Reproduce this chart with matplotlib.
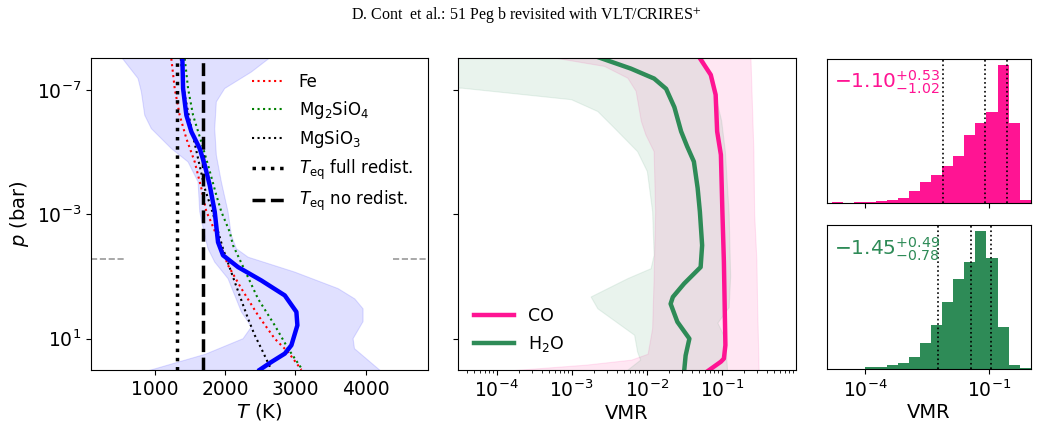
import numpy as np
import matplotlib
matplotlib.use("Agg")
import matplotlib.pyplot as plt
from matplotlib.ticker import FixedLocator, NullLocator, LogLocator

# ---------------- data ----------------
# temperature profile (median) : log10 p [bar], T [K]
tp_logp = [-8.0, -7.04, -6.18, -5.65, -5.11, -4.58, -3.93, -3.08, -2.10, -1.68, -1.30, -0.87, -0.39, 0.14, 0.57, 1.21, 1.48, 1.75, 2.0]
tp_T = [1393, 1403, 1450, 1521, 1640, 1711, 1782, 1853, 1900, 1971, 2185, 2516, 2849, 3014, 3028, 2943, 2849, 2658, 2493]
# credible envelope (left / right boundaries)
env_lo_logp = [-8.05, -7.36, -6.93, -6.18, -5.75, -5.11, -4.68, -4.04, -3.08, -2.32, -1.89, -1.46, -0.93, 0.14, 0.62, 1.0, 1.5, 2.05]
env_lo_T = [525, 763, 810, 858, 952, 1236, 1474, 1616, 1640, 1711, 1758, 1853, 2042, 2232, 2374, 2256, 1720, 880]
env_hi_logp = [-8.05, -7.57, -7.04, -6.61, -5.75, -4.90, -4.04, -3.08, -2.32, -1.89, -1.62, -1.14, -0.61, -0.28, 0.04, 0.45, 1.0, 1.32, 2.05]
env_hi_T = [2650, 2374, 1995, 1876, 1853, 1876, 1947, 2042, 2090, 2161, 2327, 2991, 3607, 3844, 3962, 3962, 3820, 3840, 4220]
# condensation curves
fe_logp = [-8.0, -7.04, -6.18, -5.43, -4.68, -3.83, -3.08, -2.85, -2.21, -1.36, -0.61, 0.25, 1.0, 1.43, 2.0]
fe_T = [1236, 1284, 1355, 1450, 1569, 1663, 1734, 1782, 1900, 2042, 2232, 2469, 2706, 2896, 3085]
mg2_logp = [-8.0, -7.04, -6.18, -5.32, -4.58, -3.61, -3.08, -2.43, -2.0, -1.20, -0.28, 0.57, 1.32, 2.0]
mg2_T = [1427, 1474, 1545, 1663, 1758, 1876, 1947, 2066, 2113, 2280, 2469, 2706, 2896, 3100]
mgs_logp = [-8.0, -6.82, -5.75, -4.79, -3.83, -3.08, -1.89, -0.82, 0.36, 0.89, 1.32, 2.0]
mgs_T = [1370, 1427, 1521, 1616, 1711, 1820, 1971, 2138, 2327, 2422, 2516, 2658]
T_eq_full = 1322
T_eq_none = 1688
p_marker_log = -1.57

# VMR profiles (log10 VMR)
co_logp = [-8.05, -7.48, -6.84, -5.66, -4.91, -3.08, -1.47, 1.21, 1.64, 1.74, 2.05]
co_logvmr = [-1.30, -1.145, -1.08, -1.06, -1.01, -0.99, -0.97, -0.95, -0.97, -1.01, -1.19]
h2o_logp = [-8.05, -7.68, -7.36, -7.03, -6.44, -5.66, -5.18, -4.69, -3.84, -3.08, -2.0, -1.30, -0.77, -0.34, -0.12, 0.46, 1.0, 1.54, 2.05]
h2o_logvmr = [-2.65, -2.21, -1.90, -1.74, -1.63, -1.54, -1.46, -1.37, -1.32, -1.29, -1.26, -1.28, -1.50, -1.65, -1.68, -1.59, -1.43, -1.48, -1.50]
co_lo_logp = [-8.05, -7.75, -7.37, -6.95, -5.98, -5.55, -5.01, -3.08, -0.93, 0.68, 1.5, 1.69, 1.85, 2.05]
co_lo_logvmr = [-3.3, -2.56, -2.25, -2.14, -2.07, -2.01, -1.90, -1.88, -1.90, -1.92, -1.98, -2.2, -2.8, -3.9]
co_hi_logp = [-8.05, -5.0, -3.0, -1.5, 0.0, 1.0, 2.05]
co_hi_logvmr = [-0.61, -0.57, -0.56, -0.53, -0.52, -0.51, -0.50]
h2o_lo_logp = [-8.05, -7.1, -7.05, -6.68, -6.30, -5.77, -5.01, -4.37, -3.08, -1.68, -1.25, -0.93, -0.34, 0.04, 0.89, 1.43, 1.69, 2.05]
h2o_lo_logvmr = [-6.0, -6.0, -4.46, -3.0, -2.65, -2.43, -2.12, -1.99, -1.92, -1.90, -1.94, -2.25, -2.74, -2.65, -2.16, -2.12, -2.08, -2.27]
h2o_hi_logp = [-8.05, -7.0, -6.0, -5.0, -3.0, -1.0, 0.0, 0.5, 1.0, 2.05]
h2o_hi_logvmr = [-1.25, -1.1, -1.0, -0.95, -0.9, -0.88, -0.9, -1.05, -0.95, -0.92]

# posterior histograms of log10 VMR
hist_edge0 = -5.0667
hist_binw = 4.0 / 15.0
co_counts = [0, 2, 0, 2, 4, 7, 10, 16, 36, 63, 84, 110, 140, 202, 238, 270, 411, 237, 10]
h2o_counts = [0, 2, 2, 2, 7, 6, 12, 20, 37, 79, 133, 200, 270, 321, 411, 332, 127, 12, 5]
co_med, co_up, co_dn = -1.10, 0.53, 1.02
h2o_med, h2o_up, h2o_dn = -1.45, 0.49, 0.78

# ---------------- figure ----------------
plt.rcParams['font.family'] = ['DejaVu Sans']
fig = plt.figure(figsize=(10.38, 4.32), dpi=100)

fig.text(0.507, 0.966, "D. Cont  et al.: 51 Peg b revisited with VLT/CRIRES$^{+}$",
         family='Liberation Serif', math_fontfamily='stix', fontsize=11.5,
         ha='center', va='center')

ax1 = fig.add_axes([0.0874, 0.1440, 0.3250, 0.7217])
ax2 = fig.add_axes([0.4415, 0.1440, 0.3250, 0.7217])
ax3 = fig.add_axes([0.7967, 0.5300, 0.1965, 0.3345])
ax4 = fig.add_axes([0.7967, 0.1447, 0.1965, 0.3338])

P = lambda lp: 10.0 ** np.asarray(lp)

# --- left panel ---
ax1.fill(list(env_lo_T) + list(env_hi_T[::-1]),
         list(P(env_lo_logp)) + list(P(env_hi_logp[::-1])),
         color='blue', alpha=0.12, lw=0.8)
ax1.plot(fe_T, P(fe_logp), color='red', ls=':', lw=1.5, label='Fe')
ax1.plot(mg2_T, P(mg2_logp), color='green', ls=':', lw=1.5, label='Mg$_2$SiO$_4$')
ax1.plot(mgs_T, P(mgs_logp), color='black', ls=':', lw=1.5, label='MgSiO$_3$')
ax1.axvline(T_eq_full, color='black', ls=':', lw=2.5, label=r'$T_\mathrm{eq}$ full redist.')
ax1.axvline(T_eq_none, color='black', ls='--', lw=2.5, label=r'$T_\mathrm{eq}$ no redist.')
ax1.plot(tp_T, P(tp_logp), color='blue', lw=3.2)
ax1.axhline(10 ** p_marker_log, xmin=0, xmax=0.105, color='gray', alpha=0.8, ls='--', lw=1.2)
ax1.axhline(10 ** p_marker_log, xmin=0.895, xmax=1, color='gray', alpha=0.8, ls='--', lw=1.2)
ax1.set_yscale('log')
ax1.set_ylim(1e2, 10 ** -8.02)
ax1.set_xlim(90, 4886)
ax1.yaxis.set_major_locator(FixedLocator([1e-7, 1e-3, 1e1]))
ax1.yaxis.set_minor_locator(NullLocator())
ax1.set_xticks([1000, 2000, 3000, 4000])
ax1.tick_params(labelsize=13.5)
ax1.set_xlabel('$T$ (K)', fontsize=14, labelpad=2)
ax1.set_ylabel('$p$ (bar)', fontsize=14, labelpad=4)
ax1.legend(loc='upper right', frameon=False, fontsize=12, handlelength=2.0,
           labelspacing=0.45)

# --- middle panel ---
ax2.fill(list(P(co_lo_logvmr)) + list(P(co_hi_logvmr[::-1])),
         list(P(co_lo_logp)) + list(P(co_hi_logp[::-1])),
         color='deeppink', alpha=0.1, lw=0.8)
ax2.fill(list(P(h2o_lo_logvmr)) + list(P(h2o_hi_logvmr[::-1])),
         list(P(h2o_lo_logp)) + list(P(h2o_hi_logp[::-1])),
         color='seagreen', alpha=0.1, lw=0.8)
ax2.plot(P(co_logvmr), P(co_logp), color='deeppink', lw=3.2, label='CO')
ax2.plot(P(h2o_logvmr), P(h2o_logp), color='seagreen', lw=3.2, label='H$_2$O')
ax2.set_xscale('log')
ax2.set_yscale('log')
ax2.set_ylim(1e2, 10 ** -8.02)
ax2.set_xlim(10 ** -4.51, 10 ** -0.014)
ax2.yaxis.set_major_locator(FixedLocator([1e-7, 1e-3, 1e1]))
ax2.yaxis.set_minor_locator(NullLocator())
ax2.set_yticklabels([])
ax2.xaxis.set_major_locator(FixedLocator([1e-4, 1e-3, 1e-2, 1e-1]))
ax2.xaxis.set_minor_locator(LogLocator(base=10, subs=np.arange(2, 10), numticks=20))
ax2.tick_params(labelsize=13.5)
ax2.set_xlabel('VMR', fontsize=14, labelpad=2)
ax2.legend(loc='lower left', frameon=False, fontsize=12.5, handlelength=2.3)

# --- histograms ---
edges = hist_edge0 + hist_binw * np.arange(len(co_counts) + 1)
for ax, counts, col, med, up, dn in [(ax3, co_counts, 'deeppink', co_med, co_up, co_dn),
                                    (ax4, h2o_counts, 'seagreen', h2o_med, h2o_up, h2o_dn)]:
    left = 10.0 ** edges[:-1]
    right = 10.0 ** edges[1:]
    ax.bar(left, counts, width=right - left, align='edge', color=col,
           edgecolor=col, linewidth=0.0)
    for v in (med - dn, med, med + up):
        ax.axvline(10 ** v, color='black', ls=':', lw=1.2)
    ax.set_xscale('log')
    ax.set_xlim(10 ** -4.917, 10 ** 0.006)
    ax.set_ylim(0, max(counts) * 1.045)
    ax.set_yticks([])
    ax.xaxis.set_major_locator(FixedLocator([1e-4, 1e-1]))
    ax.xaxis.set_minor_locator(NullLocator())
    ax.tick_params(labelsize=13.5)
    ax.text(0.035, 0.835, r'$%.2f^{+%.2f}_{-%.2f}$' % (med, up, dn),
            transform=ax.transAxes, color=col, fontsize=14.5, ha='left', va='center')
ax3.set_xticklabels([])
ax4.set_xlabel('VMR', fontsize=14, labelpad=2)

fig.savefig('out.png', dpi=100)
